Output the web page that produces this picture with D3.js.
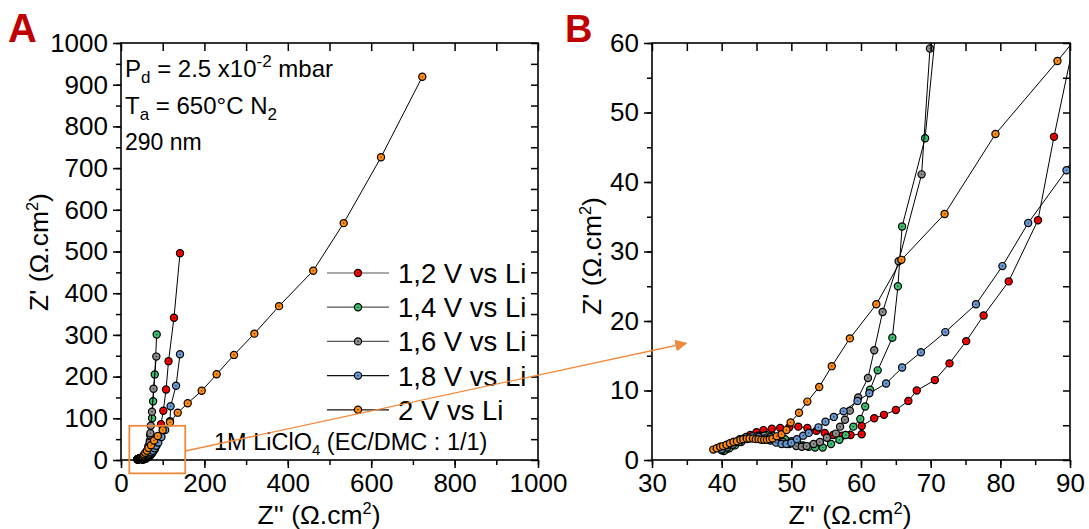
<!DOCTYPE html>
<html><head><meta charset="utf-8">
<script src="https://cdn.jsdelivr.net/npm/d3@7"></script>
<style>
html,body{margin:0;padding:0;background:#fff;}
svg{display:block;font-family:"Liberation Sans",Arial,sans-serif;}
</style></head>
<body>
<script>
// ---- data: [Z'' , Z'] in Ohm.cm2 ----
const seriesNames = ["1,2 V vs Li","1,4 V vs Li","1,6 V vs Li","1,8 V vs Li","2 V vs Li"];
const seriesColors = ["#ff0000","#3dbd6f","#8c8c8c","#6a9ad4","#ff8c0f"];
const red = [[40.6,1.5],[41.4,2.0],[42.3,2.6],[43.2,3.1],[44.1,3.6],[45.0,4.0],[46.0,4.3],[47.2,4.5],[48.4,4.6],[49.7,4.7],[51.0,4.8],[52.3,4.6],[53.6,4.2],[54.8,3.9],[56.0,3.6],[57.3,3.5],[58.5,3.6],[60.1,3.7],[60.1,4.9],[61.9,6.0],[63.3,6.5],[65.0,7.2],[66.8,8.5],[68.0,10.0],[70.6,11.5],[72.7,13.9],[75.1,17.1],[77.6,20.8],[81.2,25.7],[85.4,34.5],[87.7,46.5],[96,86],[101.5,118],[108,169],[114,237],[127,341],[141.5,496]];
const green = [[40.3,1.3],[41.1,1.7],[41.9,2.1],[42.8,2.6],[43.7,3.0],[44.6,3.3],[45.5,3.5],[46.4,3.6],[47.3,3.5],[48.2,3.3],[49.1,3.0],[50.0,2.7],[50.9,2.4],[51.7,2.1],[52.5,1.9],[53.4,1.8],[54.5,1.8],[55.7,2.3],[56.9,2.9],[57.8,3.6],[58.9,4.8],[59.9,5.9],[60.6,7.7],[61.3,10.1],[62.4,12.9],[64.5,17.6],[65.3,25.0],[65.9,33.6],[69.2,46.3],[74.5,100],[77,141],[81,205],[85.6,301]];
const gray = [[40.0,1.4],[40.8,1.8],[41.6,2.2],[42.5,2.6],[43.4,3.0],[44.3,3.3],[45.2,3.5],[46.1,3.5],[47.0,3.3],[47.9,3.0],[48.8,2.6],[49.7,2.3],[50.7,2.0],[51.5,1.9],[52.2,2.0],[53.2,2.3],[54.1,2.6],[55.1,3.2],[56.4,3.8],[57.0,4.8],[57.7,5.8],[58.4,7.1],[59.6,9.0],[61.0,11.8],[61.9,15.8],[63.1,21.3],[65.4,28.6],[68.7,41.1],[69.9,59.2],[70.5,64],[71.5,82],[74.3,116],[78,171],[84.7,248]];
const blue = [[40.0,1.6],[40.8,2.1],[41.7,2.6],[42.6,3.0],[43.5,3.3],[44.4,3.4],[45.3,3.3],[46.2,3.1],[47.0,2.8],[47.8,2.5],[48.6,2.3],[49.3,2.3],[50.0,2.5],[50.8,3.0],[51.7,3.5],[52.5,3.9],[53.9,4.7],[54.9,5.5],[56.1,6.2],[57.5,7.0],[59.5,8.5],[61.2,9.6],[63.6,11.0],[65.9,13.3],[68.6,15.5],[72.1,18.4],[76.5,22.4],[80.3,27.9],[84.0,34.1],[89.5,41.7],[97,55],[106,72],[117.5,93],[119,129],[132,178],[141.5,253.5]];
const orange = [[38.8,1.5],[39.3,1.7],[39.8,1.9],[40.2,2.0],[40.7,2.2],[41.2,2.4],[41.7,2.6],[42.2,2.7],[42.7,2.9],[43.1,3.0],[43.6,3.1],[44.0,3.1],[44.5,3.1],[44.9,3.0],[45.3,3.0],[45.7,2.9],[46.1,2.9],[46.5,2.9],[46.9,3.0],[47.3,3.1],[47.9,3.4],[48.6,3.7],[49.3,4.3],[49.9,5.4],[51.1,6.8],[52.3,8.4],[54.0,10.5],[55.8,13.5],[58.4,17.5],[62.2,22.4],[65.8,28.8],[72.0,35.4],[79.3,46.9],[88.2,57.4],[100,72],[117.5,90.4],[136,113.5],[160,136],[193.5,166],[229.4,205.5],[271,252],[319.8,303],[379,369],[461,454],[534,568],[623.5,726],[722.6,919]];
const allSeries = [red, green, gray, blue, orange];

const ticksA = [0,200,400,600,800,1000];
const ticksAY = [0,100,200,300,400,500,600,700,800,900,1000];
const ticksBX = [30,40,50,60,70,80,90];
const ticksBY = [0,10,20,30,40,50,60];
// zoom box in panel A (data units) and arrow end in panel B (data units)
const zoomBoxX = [20,154], zoomBoxY = [-32,82];
const arrowStartA = [154,21.6], arrowEndB = [34.9,16.8];

const W = 1089, H = 529;
const svg = d3.select("body").append("svg").attr("width",W).attr("height",H);
const defs = svg.append("defs");

const xA = d3.scaleLinear([0,1000],[121,538]);
const yA = d3.scaleLinear([0,1000],[460,43]);
const xB = d3.scaleLinear([30,90],[652,1070]);
const yB = d3.scaleLinear([0,60],[460,43]);

function range(a,b,s){const r=[];for(let v=a;v<=b+1e-9;v+=s)r.push(+v.toFixed(6));return r;}

function drawAxes(x, y, xMaj, xMin, yMaj, yMin, xAll, yAll){
  const [x0,x1]=x.range(), [y0,y1]=y.range();
  const g = svg.append("g");
  const style = sel => { sel.select(".domain").remove(); sel.selectAll("line").attr("stroke","#000").attr("stroke-width",1.5);
    sel.selectAll("text").attr("font-size",26).attr("fill","#000").attr("font-family","'Liberation Sans',Arial,sans-serif"); };
  g.append("g").attr("transform",`translate(0,${y0})`).call(d3.axisBottom(x).tickValues(xMin).tickSize(5).tickFormat("")).call(style);
  g.append("g").attr("transform",`translate(0,${y0})`).call(d3.axisBottom(x).tickValues(xMaj).tickSize(8).tickPadding(6).tickFormat(d3.format("d"))).call(style);
  g.append("g").attr("transform",`translate(${x0},0)`).call(d3.axisLeft(y).tickValues(yMin).tickSize(5).tickFormat("")).call(style);
  g.append("g").attr("transform",`translate(${x0},0)`).call(d3.axisLeft(y).tickValues(yMaj).tickSize(8).tickPadding(5).tickFormat(d3.format("d"))).call(style);
  g.append("g").attr("transform",`translate(0,${y1})`).call(d3.axisBottom(x).tickValues(xAll).tickSize(8).tickFormat("")).call(style);
  g.append("g").attr("transform",`translate(${x1},0)`).call(d3.axisLeft(y).tickValues(yAll).tickSize(7).tickFormat("")).call(style);
  g.append("rect").attr("x",x0).attr("y",y1).attr("width",x1-x0).attr("height",y0-y1)
    .attr("fill","none").attr("stroke","#000").attr("stroke-width",1.6);
}

function drawSeries(x, y, clipId){
  const g = svg.append("g");
  if (clipId) g.attr("clip-path",`url(#${clipId})`);
  const line = d3.line().x(d=>x(d[0])).y(d=>y(d[1]));
  allSeries.forEach((s,i)=>{
    g.append("path").attr("d",line(s)).attr("fill","none").attr("stroke","#000").attr("stroke-width",1);
    const m = g.append("g").selectAll("g").data(s).join("g").attr("transform",d=>`translate(${x(d[0])},${y(d[1])})`);
    m.append("circle").attr("r",3.6).attr("fill",seriesColors[i]).attr("stroke","#000").attr("stroke-width",1.2);
    m.append("circle").attr("r",0.8).attr("fill","#000").attr("opacity",0.55);
  });
}

defs.append("clipPath").attr("id","clipB").append("rect")
  .attr("x",xB.range()[0]).attr("y",yB.range()[1]).attr("width",xB.range()[1]-xB.range()[0]).attr("height",yB.range()[0]-yB.range()[1]);
defs.append("clipPath").attr("id","clipA").append("rect")
  .attr("x",xA.range()[0]-6).attr("y",yA.range()[1]).attr("width",xA.range()[1]-xA.range()[0]+6).attr("height",yA.range()[0]-yA.range()[1]+6);

// ---- Panel A ----
drawSeries(xA, yA, "clipA");
drawAxes(xA, yA, ticksA, range(0,1000,100), ticksAY, range(0,1000,50), range(0,1000,100), range(0,1000,50));

// ---- Panel B ----
drawSeries(xB, yB, "clipB");
drawAxes(xB, yB, ticksBX, range(30,90,5), ticksBY, range(0,60,5), range(30,90,5), range(0,60,5));

// axis titles
function zTitle(g, main, fs){
  const t = g.append("text").attr("font-size",fs).attr("fill","#000").attr("text-anchor","middle");
  t.append("tspan").text(main);
  t.append("tspan").attr("font-size",fs*0.62).attr("dy",-fs*0.36).text("2");
  t.append("tspan").attr("dy",fs*0.36).text(")");
  return t;
}
zTitle(svg.append("g").attr("transform",`translate(319,524)`), "Z'' (\u03A9.cm", 26.5);
zTitle(svg.append("g").attr("transform",`translate(850,524)`), "Z'' (\u03A9.cm", 26.5);
zTitle(svg.append("g").attr("transform",`translate(48,252) rotate(-90)`), "Z' (\u03A9.cm", 26.5);
zTitle(svg.append("g").attr("transform",`translate(601,256) rotate(-90)`), "Z' (\u03A9.cm", 26.5);

// panel letters
svg.append("text").attr("x",8).attr("y",42).attr("font-size",40).attr("font-weight","bold").attr("fill","#c00000").text("A");
svg.append("text").attr("x",565).attr("y",42).attr("font-size",38).attr("font-weight","bold").attr("fill","#c00000").text("B");

// annotations panel A
const fsA = 24, fsS = 17;
let t = svg.append("text").attr("x",125).attr("y",77).attr("font-size",fsA);
t.append("tspan").text("P");
t.append("tspan").attr("font-size",fsS).attr("dy",6).text("d");
t.append("tspan").attr("dy",-6).text(" = 2.5 x10");
t.append("tspan").attr("font-size",fsS).attr("dy",-10).text("-2");
t.append("tspan").attr("dy",10).text(" mbar");
t = svg.append("text").attr("x",125).attr("y",114).attr("font-size",fsA);
t.append("tspan").text("T");
t.append("tspan").attr("font-size",fsS).attr("dy",6).text("a");
t.append("tspan").attr("dy",-6).text(" = 650\u00B0C N");
t.append("tspan").attr("font-size",fsS).attr("dy",6).text("2");
svg.append("text").attr("x",125).attr("y",150).attr("font-size",23).text("290 nm");

t = svg.append("text").attr("x",214).attr("y",450).attr("font-size",23.5);
t.append("tspan").text("1M LiClO");
t.append("tspan").attr("font-size",15).attr("dy",5).text("4");
t.append("tspan").attr("dy",-5).text(" (EC/DMC : 1/1)");

// legend
const leg = svg.append("g");
seriesNames.forEach((n,i)=>{
  const yy = 273 + i*34.2;
  leg.append("line").attr("x1",327).attr("x2",389).attr("y1",yy).attr("y2",yy).attr("stroke",i<3?"#555":"#111").attr("stroke-width",1.2);
  leg.append("circle").attr("cx",358).attr("cy",yy).attr("r",3.6).attr("fill",seriesColors[i]).attr("stroke","#000").attr("stroke-width",1.2);
  leg.append("circle").attr("cx",358).attr("cy",yy).attr("r",0.8).attr("fill","#000").attr("opacity",0.55);
  leg.append("text").attr("x",398).attr("y",yy+10).attr("font-size",27.5).text(n);
});

// zoom box + arrow
const orangeC = "#ef8a3c";
svg.append("rect").attr("x",xA(zoomBoxX[0])).attr("y",yA(zoomBoxY[1]))
  .attr("width",xA(zoomBoxX[1])-xA(zoomBoxX[0])).attr("height",yA(zoomBoxY[0])-yA(zoomBoxY[1]))
  .attr("fill","none").attr("stroke",orangeC).attr("stroke-width",1.8);
defs.append("marker").attr("id","arr").attr("viewBox","0 0 10 10").attr("refX",9).attr("refY",5)
  .attr("markerWidth",12).attr("markerHeight",12).attr("markerUnits","userSpaceOnUse").attr("orient","auto")
  .append("path").attr("d","M0,0 L10,5 L0,10 z").attr("fill",orangeC);
svg.append("line").attr("x1",xA(arrowStartA[0])).attr("y1",yA(arrowStartA[1]))
  .attr("x2",xB(arrowEndB[0])).attr("y2",yB(arrowEndB[1]))
  .attr("stroke",orangeC).attr("stroke-width",1.3).attr("marker-end","url(#arr)");
</script>
</body></html>
